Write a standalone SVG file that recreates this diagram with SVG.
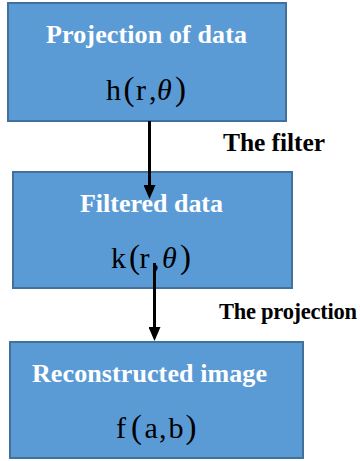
<svg xmlns="http://www.w3.org/2000/svg" width="360" height="461" viewBox="0 0 360 461">
  <style>
    .box { fill: #5B9BD5; stroke: #41719C; stroke-width: 2; }
    .serif { font-family: "Liberation Serif", Tinos, "Times New Roman", Times, serif; }
    .title { font-weight: bold; font-size: 26px; fill: #FFFFFF; }
    .math { font-size: 30px; fill: #000000; }
    .paren { font-size: 33px; }
    .it { font-style: italic; }
    .label { font-weight: bold; fill: #000000; }
    .conn { stroke: #000000; stroke-width: 3; fill: none; }
  </style>
  <defs>
    <marker id="arrow" markerUnits="userSpaceOnUse" markerWidth="14" markerHeight="12" refX="0" refY="6" orient="auto">
      <path d="M0,0 L14,6 L0,12 z" fill="#000000"/>
    </marker>
  </defs>

  <rect width="360" height="461" fill="#FFFFFF"/>

  <!-- Projection of data -->
  <g id="projection">
    <rect class="box" x="8" y="3" width="278" height="118"/>
    <text class="serif title" x="46" y="43" textLength="201">Projection of data</text>
    <text class="serif math" y="100"><tspan x="106">h</tspan><tspan class="paren" x="123.5">(</tspan><tspan x="136">r</tspan><tspan x="149">,</tspan><tspan class="it" x="157">θ</tspan><tspan class="paren" x="175">)</tspan></text>
  </g>

  <!-- Filtered data -->
  <g id="filtered">
    <rect class="box" x="13" y="172" width="279" height="116"/>
    <text class="serif title" x="80" y="212" textLength="143">Filtered data</text>
    <text class="serif math" y="268"><tspan x="111">k</tspan><tspan class="paren" x="129">(</tspan><tspan x="139.5">r</tspan><tspan x="152">,</tspan><tspan class="it" x="162">θ</tspan><tspan class="paren" x="180">)</tspan></text>
  </g>

  <!-- Reconstructed image -->
  <g id="reconstructed">
    <rect class="box" x="10" y="342" width="293" height="116"/>
    <text class="serif title" x="32" y="382" textLength="235">Reconstructed image</text>
    <text class="serif math" y="438"><tspan x="116">f</tspan><tspan class="paren" x="131">(</tspan><tspan x="144.5">a</tspan><tspan x="159">,</tspan><tspan x="168.5">b</tspan><tspan class="paren" x="185.5">)</tspan></text>
  </g>

  <!-- Connectors -->
  <g id="connectors">
    <path class="conn" d="M149.5,121 L149.5,185" marker-end="url(#arrow)"/>
    <path class="conn" d="M154.5,263 L154.5,327" marker-end="url(#arrow)"/>
    <text class="serif label" x="223" y="151" font-size="25.5" textLength="102">The filter</text>
    <text class="serif label" x="219" y="319" font-size="22.5" textLength="138">The projection</text>
  </g>
</svg>
